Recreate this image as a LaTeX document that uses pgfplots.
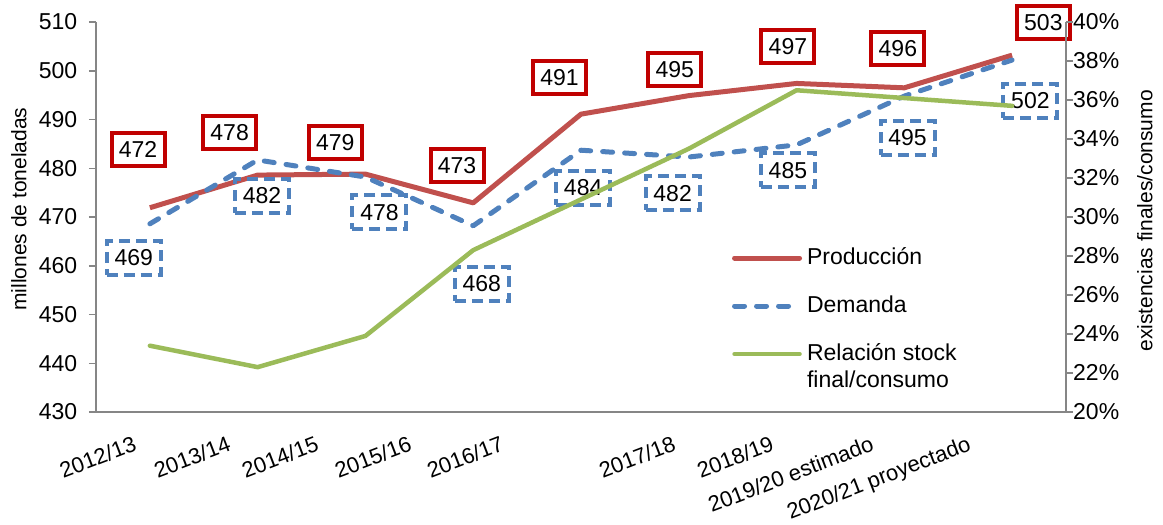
\documentclass[border=0pt]{standalone}
\usepackage{fontspec}
\setmainfont{Liberation Sans}
\usepackage{pgfplots}
\pgfplotsset{compat=1.18}
\definecolor{prod}{HTML}{C0504D}
\definecolor{dem}{HTML}{4F81BD}
\definecolor{stk}{HTML}{9BBB59}
\definecolor{rbox}{HTML}{C00000}
\definecolor{axgray}{HTML}{868686}
\pgfplotsset{
  every axis/.append style={font=\fontsize{23}{27.6}\selectfont},
  /pgf/number format/assume math mode=true,
}
\tikzset{
  redbox/.style={draw=rbox, line width=4pt, minimum width=53pt, minimum height=33pt, inner sep=0pt},
  bluebox/.style={draw=dem, line width=4pt, dash pattern=on 11pt off 6pt, minimum width=54pt, minimum height=34pt, inner sep=0pt},
}
\begin{document}
\begin{tikzpicture}[font=\fontsize{23}{27.6}\selectfont]
\path[use as bounding box] (-96pt,-113pt) rectangle (1067pt,412pt);
\begin{axis}[
  scale only axis, width=970pt, height=390pt,
  at={(0pt,0pt)}, anchor=south west,
  xmin=-0.5, xmax=8.5, ymin=430, ymax=510,
  clip=false,
  axis x line*=bottom, axis y line*=left,
  axis line style={draw=axgray, line width=1.5pt, -},
  ytick={430,440,...,510},
  tick align=outside, major tick length=7pt,
  y tick style={draw=axgray, line width=1.5pt},
  x tick style={draw=none},
  xtick={-0.165,0.71,1.526,2.389,3.243,4.839,5.749,6.677,7.577},
  xticklabels={2012/13,2013/14,2014/15,2015/16,2016/17,2017/18,2018/19,2019/20 estimado,2020/21 proyectado},
  xticklabel style={rotate=21, anchor=north east, inner sep=0pt, font=\fontsize{22}{26}\selectfont},
  xticklabel shift=16pt,
  yticklabel style={inner sep=0pt, anchor=east},
  yticklabel={\makebox[0pt][r]{\pgfmathprintnumber{\tick}\hspace{11pt}}},
  ylabel={millones de toneladas},
  ylabel style={font=\fontsize{21}{25}\selectfont, at={(axis description cs:-0.0794,0.52)}, anchor=center, rotate=0},
]
\addplot[prod, line width=5pt, line join=round] coordinates {
  (0,471.9) (1,478.6) (2,478.8) (3,472.9) (4,491.1) (5,494.9) (6,497.4) (7,496.5) (8,503.2)};
\addplot[dem, line width=5pt, line cap=round, dash pattern=on 10pt off 12pt, line join=round] coordinates {
  (0,468.6) (1,481.7) (2,478.2) (3,468.2) (4,483.7) (5,482.3) (6,484.8) (7,494.8) (8,502.2)};
\node[redbox] at (axis cs:-0.11,483.9) {472};
\node[redbox] at (axis cs:0.74,487.4) {478};
\node[redbox] at (axis cs:1.72,485.2) {479};
\node[redbox] at (axis cs:2.85,480.5) {473};
\node[redbox] at (axis cs:3.80,498.7) {491};
\node[redbox] at (axis cs:4.87,500.2) {495};
\node[redbox] at (axis cs:5.92,504.9) {497};
\node[redbox] at (axis cs:6.94,504.5) {496};
\node[redbox] at (axis cs:8.29,509.8) {503};
\node[bluebox] at (axis cs:-0.15,461.6) {469};
\node[bluebox] at (axis cs:1.04,474.3) {482};
\node[bluebox] at (axis cs:2.13,471.0) {478};
\node[bluebox] at (axis cs:3.08,456.3) {468};
\node[bluebox] at (axis cs:4.02,476.0) {484};
\node[bluebox] at (axis cs:4.85,474.9) {482};
\node[bluebox] at (axis cs:5.92,479.6) {485};
\node[bluebox] at (axis cs:7.03,486.2) {495};
\node[bluebox] at (axis cs:8.17,493.8) {502};
\end{axis}
\begin{axis}[
  scale only axis, width=970pt, height=390pt,
  at={(0pt,0pt)}, anchor=south west,
  xmin=-0.5, xmax=8.5, ymin=20, ymax=40,
  clip=false,
  axis x line=none, axis y line*=right,
  axis line style={draw=axgray, line width=1.5pt, -},
  ytick={20,22,...,40},
  yticklabel={\pgfmathprintnumber{\tick}\%},
  tick align=outside, major tick length=7pt,
  y tick style={draw=axgray, line width=1.5pt},
  yticklabel style={inner sep=0pt},
  ylabel={existencias finales/consumo},
  ylabel style={font=\fontsize{21}{25}\selectfont, at={(axis description cs:1.0814,0.49)}, anchor=center, rotate=0},
  legend style={draw=none, fill=none, inner sep=0pt, outer sep=0pt,
    at={(axis description cs:0.6557,0.4256)}, anchor=north west,
    row sep=24pt, column sep=5pt,
    nodes={inner sep=0pt, text height=18pt, text depth=6pt}},
  legend cell align=left,
  legend image code/.code={\draw[#1] (2.5pt,0pt) -- (67.5pt,0pt);},
]
\addlegendimage{prod, line width=5pt, line cap=round}
\addlegendentry{Producción}
\addlegendimage{dem, line width=5pt, line cap=round, dash pattern=on 10pt off 12pt}
\addlegendentry{Demanda}
\addplot[stk, line width=4.5pt, line join=round, line cap=round] coordinates {
  (0,23.4) (1,22.3) (2,23.9) (3,28.3) (4,30.9) (5,33.5) (6,36.5) (7,36.1) (8,35.7)};
\addlegendentry{\begin{tabular}[t]{@{}l@{}}Relación stock\\final/consumo\end{tabular}}
\end{axis}
\end{tikzpicture}
\end{document}
